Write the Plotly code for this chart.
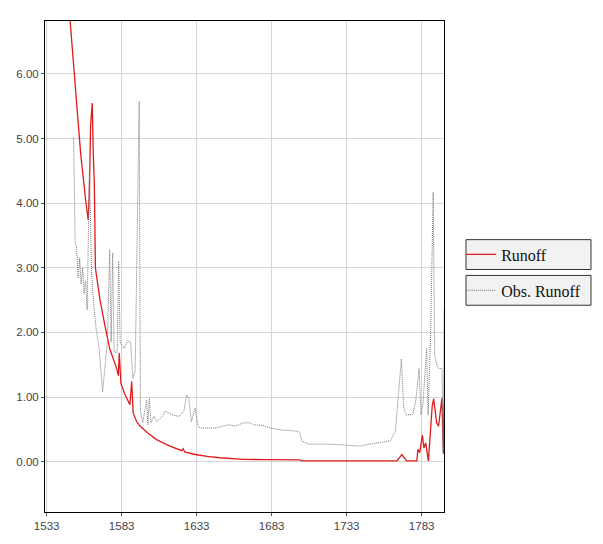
import plotly.graph_objects as go

# Runoff (simulated)
runoff_x = [1546, 1548.5, 1550, 1552, 1553.7, 1555.7, 1557, 1559, 1560.7, 1561.5, 1562.3, 1563.4,
            1564.1, 1564.8, 1565.5, 1568.5, 1571.9, 1575, 1579.7, 1580.8, 1581.4, 1582.5, 1585,
            1588.5, 1589.7, 1590.7, 1593, 1595.2, 1600, 1606.3, 1615.2, 1620, 1623, 1624, 1625,
            1632, 1640, 1648.5, 1656, 1664, 1680, 1702, 1703, 1740, 1766.5, 1769.8, 1773, 1779.8,
            1780.5, 1781.7, 1783.5, 1784.5, 1785.7, 1787.5, 1790, 1791, 1793, 1794.3, 1796.5,
            1797.5, 1798]
runoff_y = [7.6, 6.82, 6.35, 5.73, 5.34, 4.76, 4.46, 4.05, 3.74, 4.2, 5.2, 5.55,
            4.76, 4.3, 3.0, 2.51, 2.1, 1.75, 1.44, 1.33, 1.68, 1.21, 1.05,
            0.88, 1.24, 0.75, 0.62, 0.55, 0.45, 0.34, 0.24, 0.19, 0.17, 0.2, 0.15,
            0.11, 0.08, 0.06, 0.045, 0.035, 0.03, 0.028, 0.012, 0.01, 0.01, 0.11, 0.01, 0.01,
            0.19, 0.14, 0.41, 0.21, 0.29, 0.01, 0.85, 0.97, 0.6, 0.55, 0.98,
            0.12, 0.9]

# Observed runoff
obs_x = [1551, 1551.5, 1552, 1553, 1554, 1555, 1556, 1557, 1558, 1559, 1560, 1561.5, 1563,
         1564.5, 1566, 1568, 1570.3, 1572, 1573.5, 1575, 1576, 1577, 1578, 1580, 1581, 1582,
         1584.5, 1587, 1589, 1590.5, 1592, 1594.7, 1595.5, 1597, 1599.7, 1600.5, 1601.5, 1602.5,
         1604.5, 1606.5, 1610, 1612, 1617, 1621, 1624.5, 1626.3, 1627.8, 1629.5, 1632, 1634,
         1635.2, 1646, 1654, 1659, 1664, 1668.6, 1671, 1677, 1682, 1689, 1697, 1700.7, 1702,
         1703, 1708, 1723, 1735.2, 1742, 1748, 1755, 1762, 1765.5, 1768, 1769.5, 1771, 1773,
         1777, 1779, 1781.3, 1782.6, 1784, 1786.3, 1787.3, 1789, 1790.7, 1791.7, 1793.3, 1794.4,
         1796.6, 1797.3, 1798]
obs_y = [5.02, 4.0, 3.4, 3.3, 2.85, 3.15, 2.75, 3.0, 2.6, 2.8, 2.35, 4.5, 2.9,
         2.4, 2.05, 1.75, 1.08, 1.49, 1.85, 3.28, 1.85, 3.23, 1.7, 1.69, 3.1, 1.85,
         1.75, 1.87, 1.85, 1.29, 1.4, 5.58, 0.78, 0.6, 0.95, 0.57, 0.98, 0.6,
         0.7, 0.62, 0.7, 0.78, 0.72, 0.7, 0.78, 1.03, 0.98, 0.62, 0.83, 0.55,
         0.52, 0.52, 0.57, 0.55, 0.6, 0.6, 0.57, 0.56, 0.52, 0.49, 0.48, 0.47, 0.44,
         0.32, 0.27, 0.27, 0.25, 0.24, 0.27, 0.29, 0.32, 0.47, 1.24, 1.59, 0.83, 0.72,
         0.73, 0.93, 1.44, 0.72, 0.93, 1.75, 0.72, 2.0, 4.17, 1.64, 1.49, 1.44,
         1.44, 0.15, 2.35]

x_ticks = [1533, 1583, 1633, 1683, 1733, 1783]
y_ticks = [0, 1, 2, 3, 4, 5, 6]

fig = go.Figure()
fig.add_trace(go.Scatter(x=runoff_x, y=runoff_y, mode="lines", name="Runoff",
                         line=dict(color="#e01b1b", width=1.3), legend="legend"))
fig.add_trace(go.Scatter(x=obs_x, y=obs_y, mode="lines", name="Obs. Runoff",
                         line=dict(color="#7a7a7a", width=1, dash="1px,1px"), legend="legend2"))

legend_style = dict(bgcolor="rgba(0,0,0,0)", borderwidth=0,
                    font=dict(family="Liberation Serif", size=16, color="#111"),
                    orientation="h", entrywidth=80, xanchor="left", yanchor="middle",
                    itemwidth=30)

# legend boxes (paper coordinates)
box_style = dict(type="rect", xref="paper", yref="paper", layer="above",
                 fillcolor="#f2f2f2", line=dict(color="#333333", width=1))
shapes = [
    dict(x0=1.0551, x1=1.3684, y0=0.4939, y1=0.5547, **box_style),
    dict(x0=1.0551, x1=1.3684, y0=0.4211, y1=0.4818, **box_style),
]

fig.update_layout(
    width=603, height=544,
    margin=dict(l=45, r=159, t=21, b=29),
    paper_bgcolor="white", plot_bgcolor="white",
    showlegend=True,
    shapes=shapes,
    legend=dict(x=1.043, y=0.5243, **legend_style),
    legend2=dict(x=1.043, y=0.4514, **legend_style),
    xaxis=dict(range=[1531.9, 1797.9], tickvals=x_ticks, ticktext=[str(v) for v in x_ticks],
               showgrid=True, gridcolor="#d6d6d6", gridwidth=1, zeroline=False,
               showline=True, linecolor="black", linewidth=1, mirror=True,
               ticks="outside", ticklen=3, tickcolor="#555",
               tickfont=dict(family="Liberation Sans", size=11.5, color="#444")),
    yaxis=dict(range=[-0.78, 6.82], tickvals=y_ticks, tickformat=".2f",
               showgrid=True, gridcolor="#d6d6d6", gridwidth=1, zeroline=False,
               showline=True, linecolor="black", linewidth=1, mirror=True,
               ticks="outside", ticklen=3, tickcolor="#555",
               tickfont=dict(family="Liberation Sans", size=11.5, color="#444")),
)

fig.write_html("out.html")
